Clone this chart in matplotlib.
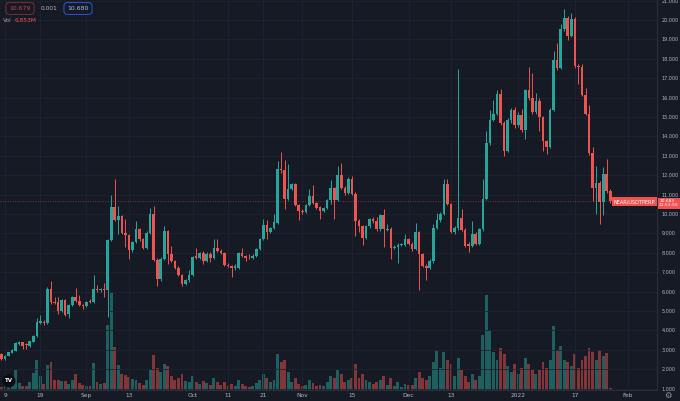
import numpy as np
import pandas as pd
import matplotlib
matplotlib.use('Agg')
import matplotlib.pyplot as plt

# NEAR/USDT perp, daily candles 2021-08-08 .. 2022-01-27
dates = pd.date_range('2021-08-08', periods=173, freq='D')

opens = [2.77, 2.55, 2.70, 2.85, 2.95, 3.30, 3.38, 3.30, 3.20, 3.42,
         3.71, 4.40, 4.46, 4.36, 6.16, 5.45, 5.46, 5.00, 5.58, 4.83,
         5.30, 5.72, 5.51, 5.30, 5.25, 5.50, 5.47, 6.16, 6.06, 6.13,
         6.06, 8.65, 10.36, 9.68, 9.88, 9.00, 8.90, 8.13, 8.56, 9.21,
         8.70, 8.27, 9.04, 10.02, 7.65, 6.67, 7.70, 9.12, 7.93, 7.58,
         7.24, 6.84, 6.38, 6.59, 6.88, 7.82, 7.75, 7.99, 7.58, 7.96,
         7.75, 8.27, 8.10, 7.99, 7.36, 7.30, 7.24, 7.24, 7.99, 7.82,
         7.80, 7.75, 7.82, 8.18, 8.70, 9.42, 9.07, 9.28, 9.56, 12.30,
         12.28, 10.79, 11.30, 11.53, 10.45, 10.16, 10.10, 10.45, 10.93, 10.57,
         10.34, 10.14, 10.31, 10.70, 11.34, 10.74, 11.99, 11.36, 11.10, 11.82,
         11.05, 9.64, 9.37, 8.77, 9.37, 9.76, 9.62, 9.21, 9.93, 9.17,
         9.25, 8.26, 8.31, 8.40, 8.40, 8.70, 8.48, 8.19, 9.08, 7.93,
         7.31, 7.21, 7.57, 9.30, 9.71, 9.99, 11.56, 10.50, 9.06, 9.28,
         9.80, 9.20, 8.48, 8.36, 8.99, 8.48, 9.22, 10.79, 13.66, 14.87,
         15.17, 16.20, 14.70, 13.25, 14.82, 15.34, 14.57, 15.11, 14.34, 16.39,
         15.96, 15.24, 15.84, 14.99, 13.75, 13.44, 15.38, 17.94, 17.51, 19.53,
         20.10, 19.19, 20.05, 17.61, 17.58, 16.14, 15.16, 13.13, 11.33, 11.61,
         10.61, 12.04, 11.21]

highs = [2.82, 2.74, 2.90, 3.02, 3.38, 3.47, 3.42, 3.34, 3.47, 3.78,
         4.62, 4.77, 4.52, 6.22, 6.56, 5.73, 5.73, 5.62, 5.64, 5.35,
         5.78, 6.20, 5.85, 5.36, 5.52, 5.64, 6.85, 6.33, 6.20, 6.42,
         8.72, 11.00, 11.80, 10.40, 9.95, 9.72, 8.96, 8.62, 9.64, 9.26,
         8.76, 9.10, 10.33, 10.39, 7.72, 7.76, 9.37, 9.18, 8.35, 7.64,
         7.30, 6.90, 6.65, 7.10, 7.85, 8.27, 8.05, 8.10, 8.02, 8.05,
         8.70, 8.70, 8.18, 8.04, 7.45, 7.36, 7.40, 8.05, 8.27, 7.90,
         7.95, 7.96, 8.25, 8.76, 9.72, 9.68, 9.34, 9.98, 12.73, 13.19,
         12.76, 12.56, 11.60, 11.60, 10.52, 10.25, 10.52, 11.27, 11.47, 10.63,
         10.40, 10.38, 10.77, 11.77, 11.40, 12.50, 12.62, 11.45, 11.90, 11.96,
         11.12, 9.72, 9.44, 9.43, 9.82, 9.84, 9.85, 10.00, 10.27, 9.50,
         9.32, 8.40, 8.50, 8.52, 8.95, 8.78, 8.55, 9.56, 9.15, 8.00,
         7.40, 7.70, 9.50, 10.07, 10.10, 11.82, 11.82, 10.58, 9.40, 17.48,
         10.25, 9.28, 8.55, 9.64, 9.05, 9.30, 11.82, 14.27, 15.34, 15.90,
         16.37, 16.42, 14.80, 14.95, 15.45, 15.50, 15.25, 15.40, 16.45, 17.60,
         17.25, 16.24, 16.00, 15.05, 13.82, 15.45, 18.42, 18.79, 19.79, 20.56,
         20.22, 20.36, 20.15, 17.75, 17.73, 16.50, 15.64, 13.44, 12.50, 11.70,
         12.42, 12.84, 11.30]

lows = [2.48, 2.50, 2.66, 2.82, 2.92, 3.26, 3.02, 3.02, 3.16, 3.38,
        3.66, 4.34, 4.30, 4.32, 5.38, 5.34, 4.84, 4.95, 4.76, 4.62,
        5.26, 5.46, 5.24, 5.13, 5.20, 5.40, 5.42, 6.00, 6.00, 5.70,
        4.70, 8.60, 9.62, 8.99, 8.95, 8.30, 7.70, 8.05, 8.50, 8.62,
        8.20, 8.22, 8.98, 7.60, 6.30, 6.55, 7.62, 7.40, 7.52, 7.18,
        6.78, 6.30, 6.32, 6.52, 6.82, 7.70, 7.68, 7.40, 7.52, 7.55,
        7.70, 8.05, 7.92, 7.30, 7.25, 6.76, 7.10, 7.18, 7.76, 7.60,
        7.68, 7.70, 7.76, 8.12, 8.64, 8.73, 9.00, 9.22, 9.50, 12.10,
        10.24, 10.70, 11.22, 10.40, 9.67, 10.02, 10.05, 10.40, 10.50, 10.25,
        9.76, 10.08, 10.25, 10.53, 9.76, 10.68, 11.30, 11.00, 11.04, 10.98,
        8.87, 9.07, 8.39, 8.70, 9.30, 9.55, 9.14, 9.15, 8.30, 9.12,
        7.67, 8.20, 7.50, 8.34, 8.34, 8.40, 8.10, 8.12, 6.08, 7.25,
        6.60, 7.15, 7.50, 9.24, 9.60, 9.94, 10.45, 9.00, 8.98, 9.16,
        9.14, 8.30, 8.05, 8.30, 8.40, 8.42, 9.15, 10.70, 13.55, 14.78,
        15.10, 14.60, 12.99, 13.18, 14.70, 14.45, 14.47, 14.25, 13.88, 15.90,
        15.18, 15.18, 14.30, 13.27, 13.07, 13.38, 15.30, 17.40, 17.45, 19.45,
        18.97, 19.10, 17.55, 16.70, 16.08, 15.10, 13.05, 10.65, 10.01, 9.47,
        9.93, 11.10, 10.55]

closes = [2.53, 2.70, 2.87, 2.97, 3.33, 3.40, 3.21, 3.25, 3.43, 3.73,
          4.41, 4.48, 4.36, 6.16, 5.44, 5.40, 5.00, 5.58, 4.82, 5.30,
          5.72, 5.51, 5.29, 5.25, 5.47, 5.45, 6.16, 6.06, 6.13, 6.06,
          8.65, 10.36, 9.68, 9.88, 9.00, 8.90, 8.13, 8.56, 9.21, 8.70,
          8.27, 9.04, 10.02, 7.65, 6.67, 7.70, 9.12, 7.93, 7.58, 7.24,
          6.84, 6.38, 6.59, 6.88, 7.79, 7.75, 7.99, 7.58, 7.96, 7.75,
          8.27, 8.10, 7.99, 7.36, 7.30, 7.24, 7.30, 7.99, 7.82, 7.75,
          7.77, 7.82, 8.18, 8.70, 9.45, 9.07, 9.28, 9.59, 12.30, 12.25,
          10.79, 11.30, 11.53, 10.45, 10.14, 10.10, 10.45, 10.93, 10.57, 10.31,
          10.15, 10.31, 10.70, 11.34, 10.74, 11.99, 11.36, 11.10, 11.82, 11.05,
          9.64, 9.37, 8.77, 9.37, 9.76, 9.62, 9.21, 9.93, 9.25, 9.25,
          8.26, 8.31, 8.40, 8.43, 8.70, 8.48, 8.19, 9.08, 7.93, 7.31,
          7.21, 7.57, 9.30, 9.71, 9.99, 11.56, 10.50, 9.06, 9.28, 9.80,
          9.20, 8.36, 8.36, 8.99, 8.48, 9.22, 10.79, 13.66, 14.87, 15.17,
          16.20, 14.70, 13.25, 14.82, 15.34, 14.57, 15.11, 14.34, 16.39, 15.96,
          15.24, 15.84, 14.99, 13.75, 13.44, 15.38, 17.94, 17.51, 19.53, 20.10,
          19.19, 20.05, 17.61, 17.58, 16.14, 15.16, 13.13, 11.33, 11.61, 10.61,
          12.04, 11.21, 10.68]

# volume in millions
volumes = [10, 14, 17, 31, 68, 24, 14, 14, 27, 58,
           102, 48, 20, 85, 95, 34, 34, 31, 31, 20,
           34, 54, 24, 17, 14, 14, 92, 27, 20, 24,
           221, 333, 146, 85, 54, 51, 44, 37, 34, 24,
           17, 34, 68, 119, 75, 61, 88, 82, 48, 34,
           41, 54, 31, 27, 48, 27, 20, 31, 24, 17,
           41, 27, 17, 27, 14, 20, 14, 34, 20, 14,
           10, 14, 24, 34, 54, 41, 27, 34, 122, 95,
           102, 61, 27, 41, 20, 14, 17, 34, 24, 14,
           17, 14, 27, 48, 41, 68, 54, 27, 34, 41,
           88, 41, 54, 34, 27, 20, 27, 34, 48, 17,
           41, 14, 27, 10, 20, 17, 17, 41, 61, 41,
           34, 48, 95, 136, 75, 129, 102, 88, 48, 109,
           68, 48, 27, 54, 34, 48, 187, 323, 204, 129,
           102, 143, 122, 82, 61, 88, 54, 75, 109, 88,
           68, 54, 68, 95, 75, 102, 218, 136, 150, 102,
           95, 82, 122, 75, 102, 116, 143, 129, 102, 136,
           116, 126, 6.853]

tick_dates = ['2021-08-09', '2021-08-19', '2021-09-01', '2021-09-13', '2021-10-01',
              '2021-10-11', '2021-10-21', '2021-11-01', '2021-11-15', '2021-12-01',
              '2021-12-13', '2022-01-01', '2022-01-17', '2022-02-01']
tick_labels = ['9', '19', 'Sep', '13', 'Oct', '11', '21', 'Nov', '15', 'Dec',
               '13', '2022', '17', 'Feb']
price_ticks = list(range(1, 22))
last_price = 10.683

BG = '#161a25'
GRID = '#1f2330'
UP = '#26a69a'
DOWN = '#ef5350'
TXT = '#b2b5be'

o = np.array(opens)
h = np.array(highs)
l = np.array(lows)
c = np.array(closes)
up = c >= o
cols = np.where(up, UP, DOWN)

fig = plt.figure(figsize=(6.8, 4.01), dpi=100, facecolor=BG)
pos = [0, 11 / 401, 657 / 680, 390 / 401]

# volume in its own axes behind the candles
vax = fig.add_axes(pos, facecolor=BG)
vax.bar(dates, volumes, width=0.82, color=cols, alpha=0.5, linewidth=0)
vax.set_ylim(0, 1330)
vax.set_yticks([])
for s in vax.spines.values():
    s.set_visible(False)

ax = fig.add_axes(pos, sharex=vax)
ax.patch.set_visible(False)

body = np.abs(c - o)
body = np.where(body < 0.04, 0.04, body)
ax.vlines(dates, l, h, colors=cols, linewidth=0.7, zorder=2)
ax.bar(dates, body, bottom=np.minimum(o, c), width=0.74, color=cols,
       linewidth=0, zorder=3)

ax.set_xlim(dates[0] - pd.Timedelta(hours=10), dates[0] + pd.Timedelta(days=185.2))
ax.set_ylim(0.93, 21.03)

ax.set_xticks(pd.to_datetime(tick_dates))
ax.set_xticklabels(tick_labels)
ax.set_yticks(price_ticks)
ax.set_yticklabels([f'{v:.3f}' for v in price_ticks])
ax.yaxis.tick_right()
ax.tick_params(axis='both', length=0, colors=TXT)
ax.tick_params(axis='y', pad=3.5, labelsize=3.5)
ax.tick_params(axis='x', pad=2.5, labelsize=4.2)
vax.tick_params(axis='x', length=0, labelbottom=False)
ax.grid(True, color=GRID, linewidth=0.6, zorder=0)
ax.set_axisbelow(True)

for side in ['top', 'left']:
    ax.spines[side].set_visible(False)
ax.spines['right'].set_color('#2a2e39')
ax.spines['bottom'].set_color('#2a2e39')
ax.spines['right'].set_linewidth(0.8)
ax.spines['bottom'].set_linewidth(0.8)

# last price line and labels
ax.axhline(last_price, color=DOWN, linewidth=0.6, linestyle=(0, (1, 2)), alpha=0.6, zorder=1)
ax.annotate('10.683\n21:53:55', xy=(1, last_price), xycoords=('axes fraction', 'data'),
            xytext=(1.5, -1.8), textcoords='offset points', ha='left', va='center',
            fontsize=3.2, color='white', linespacing=1.0,
            bbox=dict(boxstyle='square,pad=0.3', fc=DOWN, ec='none'), annotation_clip=False)
ax.annotate('NEAR/USDTPERP', xy=(1, last_price), xycoords=('axes fraction', 'data'),
            xytext=(-1.5, -0.6), textcoords='offset points', ha='right', va='center',
            fontsize=3.6, color='white',
            bbox=dict(boxstyle='square,pad=0.35', fc=DOWN, ec='none'), annotation_clip=False)

# top-left header
fig.text(20 / 680, 1 - 8.5 / 401, '10.679', ha='center', va='center', fontsize=4.4,
         color='#c84246',
         bbox=dict(boxstyle='round,pad=0.55,rounding_size=0.5', fc='none', ec='#8e2f33', lw=0.6))
fig.text(49 / 680, 1 - 8.5 / 401, '0.001', ha='center', va='center', fontsize=4.2, color=TXT)
fig.text(78 / 680, 1 - 8.5 / 401, '10.680', ha='center', va='center', fontsize=4.4,
         color='#a9b9f5',
         bbox=dict(boxstyle='round,pad=0.55,rounding_size=0.5', fc='none', ec='#2962ff', lw=0.6))
fig.text(3 / 680, 1 - 20 / 401, 'Vol', ha='left', va='center', fontsize=4.2, color='#9598a1')
fig.text(15 / 680, 1 - 20 / 401, '6.853M', ha='left', va='center', fontsize=4.2, color=DOWN)

# logo and settings icon
fig.text(9 / 680, 1 - 381 / 401, 'TV', ha='center', va='center', fontsize=4, color='white',
         weight='bold', bbox=dict(boxstyle='circle,pad=0.45', fc='#0b0d13', ec='none'))
fig.text(668 / 680, 1 - 395 / 401, '\u2699', ha='center', va='center', fontsize=6,
         color='#9598a1', family='DejaVu Sans')

fig.savefig('out.png', dpi=100, facecolor=BG)
